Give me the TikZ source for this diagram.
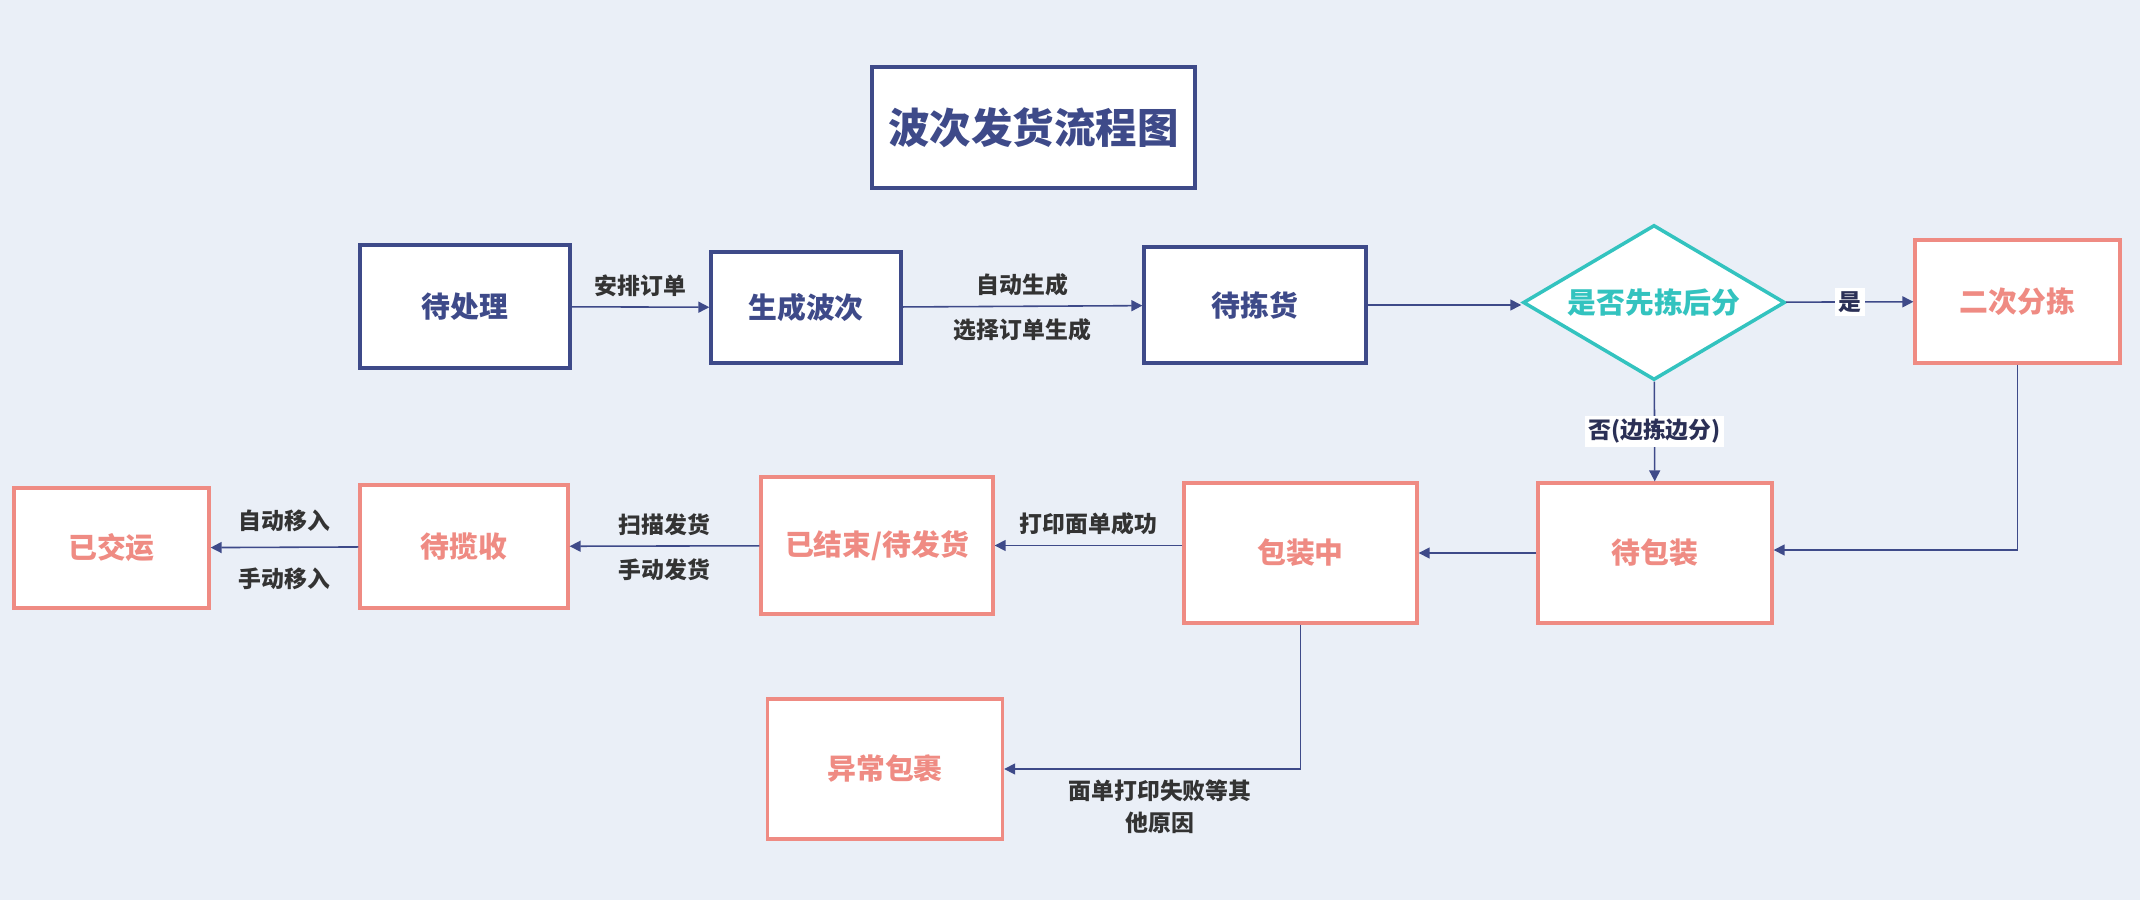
\documentclass[tikz,border=0pt]{standalone}
\usepackage{fontspec}
\setmainfont{Noto Sans CJK SC}
\usetikzlibrary{arrows.meta,shapes.geometric}
\definecolor{bgblue}{HTML}{EAEFF7}
\definecolor{navy}{HTML}{3E4A89}
\definecolor{flowteal}{HTML}{33C3BF}
\definecolor{salmon}{HTML}{EF8B83}
\definecolor{labelgray}{HTML}{333333}
\definecolor{yesno}{HTML}{2B3056}

\begin{document}
\begin{tikzpicture}[scale=1,
		navybox/.style={draw=navy, line width=0.95pt, fill=white, text=navy, inner sep=0pt, font=\fontsize{8.2}{9}\selectfont\bfseries},
		pinkbox/.style={draw=salmon, line width=0.95pt, fill=white, text=salmon, inner sep=0pt, font=\fontsize{8.2}{9}\selectfont\bfseries},
		lbl/.style={text=labelgray, inner sep=0.5pt, font=\fontsize{6.5}{9.1}\selectfont\bfseries},
		arr/.style={draw=navy, line width=0.45pt, -{Triangle[length=1.1mm,width=1.1mm]}}]
		\fill[bgblue] (0,0) rectangle (21.4,9);
		\useasboundingbox (0,0) rectangle (21.4,9);

		\node[navybox, minimum width=3.23cm, minimum height=1.21cm, font=\fontsize{11.8}{13}\selectfont\bfseries] (title) at (10.335,7.725) {波次发货流程图};

		\node[navybox, minimum width=2.1cm, minimum height=1.23cm] (chuli) at (4.65,5.935) {待处理};
		\node[navybox, minimum width=1.9cm, minimum height=1.11cm] (shengcheng) at (8.06,5.925) {生成波次};
		\node[navybox, minimum width=2.22cm, minimum height=1.16cm] (daijian) at (12.55,5.95) {待拣货};
		\node[diamond, aspect=1.7, draw=flowteal, line width=1pt, fill=white, text=flowteal, inner sep=0pt, minimum width=2.62cm, minimum height=1.55cm, font=\fontsize{8.2}{9}\selectfont\bfseries] (xianjian) at (16.54,5.975) {是否先拣后分};
		\node[pinkbox, minimum width=2.05cm, minimum height=1.23cm] (erci) at (20.175,5.985) {二次分拣};

		\node[pinkbox, minimum width=2.34cm, minimum height=1.4cm] (daibao) at (16.55,3.47) {待包装};
		\node[pinkbox, minimum width=2.33cm, minimum height=1.4cm] (baozhuang) at (13.005,3.47) {包装中};
		\node[pinkbox, minimum width=2.32cm, minimum height=1.37cm] (fahuo) at (8.77,3.545) {已结束/待发货};
		\node[pinkbox, minimum width=2.08cm, minimum height=1.23cm] (lanshou) at (4.64,3.535) {待揽收};
		\node[pinkbox, minimum width=1.95cm, minimum height=1.2cm] (jiaoyun) at (1.115,3.52) {已交运};
		\node[pinkbox, minimum width=2.35cm, minimum height=1.4cm] (yichang) at (8.85,1.31) {异常包裹};

		\draw[arr] (chuli) -- node[lbl, above=0.08cm] (anpai) {安排订单} (shengcheng);
		\draw[arr] (shengcheng) -- node[lbl, above=0.08cm] (zidong) {自动生成} node[lbl, below=0.1cm] (xuanze) {选择订单生成} (daijian);
		\draw[arr] (daijian.east) -- (daijian.east -| xianjian.west);
		\draw[arr] (xianjian) -- node[lbl, fill=white, text=yesno, inner sep=1pt] (shi) {是} (erci);
		\draw[arr] (xianjian) -- node[lbl, fill=white, text=yesno, inner sep=1pt] (fou) {否(边拣边分)} (daibao);
		\draw[arr] (erci.south) |- ([yshift=0.03cm]daibao.east);
		\draw[arr] (daibao) -- (baozhuang);
		\draw[arr] (baozhuang.west |- fahuo.east) -- node[lbl, above=0.08cm] (dayin) {打印面单成功} (fahuo.east);
		\draw[arr] (fahuo) -- node[lbl, above=0.08cm] (saomiao) {扫描发货} node[lbl, below=0.1cm] (shoudong) {手动发货} (lanshou);
		\draw[arr] (lanshou) -- node[lbl, above=0.13cm] (yiru) {自动移入} node[lbl, below=0.18cm] (shouru) {手动移入} (jiaoyun);
		\draw[arr] (baozhuang.south) |- (yichang.east);
		\node[lbl, align=center] (shibai) at (11.6,0.93) {面单打印失败等其\\他原因};

	\end{tikzpicture}
\end{document}
